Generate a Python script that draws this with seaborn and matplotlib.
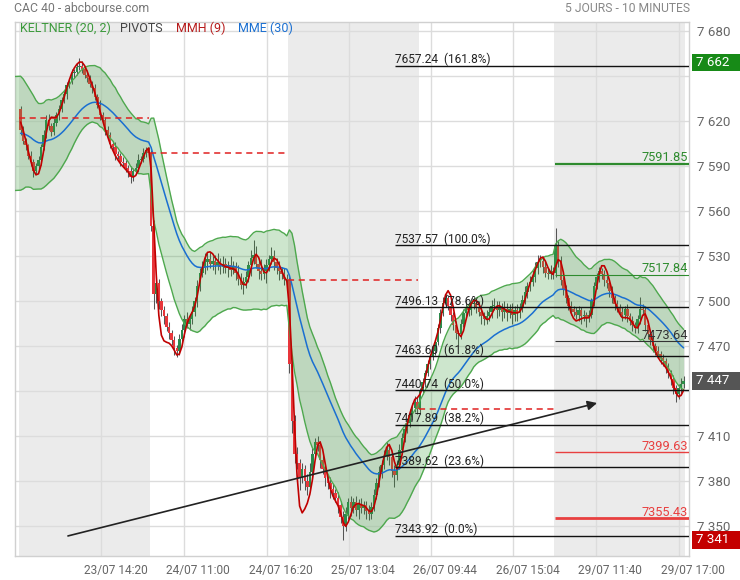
import numpy as np
import pandas as pd
import seaborn as sns
import matplotlib.pyplot as plt
from matplotlib.patches import Rectangle
from matplotlib.transforms import ScaledTranslation, blended_transform_factory

# CAC 40, 10 minute bars, one list of closes per session
day1_close = [7614, 7607, 7604, 7597, 7593, 7587, 7590, 7594, 7603, 7611,
              7621, 7617, 7613, 7619, 7624, 7628, 7634, 7638, 7644, 7647,
              7652, 7653, 7656, 7657, 7655, 7651, 7649, 7645, 7642, 7636,
              7631, 7624, 7621, 7614, 7611, 7605, 7603, 7598, 7597, 7593,
              7592, 7589, 7587, 7583, 7587, 7589, 7594, 7595, 7599, 7601, 7599]
day2_close = [7550, 7505, 7512, 7500, 7494, 7490, 7483, 7479, 7474, 7469,
              7467, 7475, 7481, 7488, 7485, 7488, 7493, 7500, 7510, 7519,
              7522, 7526, 7528, 7525, 7527, 7524, 7526, 7523, 7525, 7522,
              7524, 7521, 7523, 7519, 7515, 7511, 7513, 7516, 7524, 7529,
              7531, 7525, 7520, 7518, 7520, 7524, 7528, 7530, 7526, 7522,
              7520, 7518, 7515, 7514]
day3_close = [7458, 7420, 7398, 7392, 7382, 7388, 7380, 7376, 7386, 7398,
              7406, 7404, 7394, 7388, 7382, 7379, 7375, 7372, 7369, 7364,
              7356, 7350, 7358, 7366, 7362, 7366, 7361, 7365, 7362, 7364,
              7360, 7358, 7363, 7371, 7379, 7386, 7391, 7397, 7401, 7396,
              7387, 7384, 7391, 7401, 7409, 7415, 7419, 7424, 7429, 7433, 7428]
day4_close = [7440, 7446, 7452, 7458, 7463, 7467, 7473, 7482, 7492, 7499,
              7502, 7497, 7491, 7484, 7479, 7478, 7485, 7492, 7496, 7494,
              7498, 7499, 7496, 7493, 7490, 7488, 7490, 7493, 7497, 7497,
              7494, 7496, 7493, 7495, 7492, 7495, 7491, 7494, 7492, 7496,
              7501, 7506, 7510, 7513, 7516, 7522, 7526, 7527, 7523, 7519,
              7518, 7520, 7519]
day5_close = [7537, 7527, 7514, 7508, 7502, 7497, 7495, 7493, 7491, 7494,
              7490, 7491, 7489, 7491, 7500, 7510, 7516, 7520, 7518, 7514,
              7512, 7507, 7502, 7498, 7496, 7493, 7491, 7495, 7490, 7487,
              7484, 7482, 7488, 7495, 7494, 7484, 7478, 7474, 7470, 7467,
              7465, 7462, 7460, 7456, 7452, 7448, 7442, 7438, 7442, 7445, 7447]

# wick length above / below the body
day1_up = [2, 3, 2, 1, 3, 2, 2, 3, 2, 3, 3, 4, 2, 3, 2, 3, 2, 3, 2, 2,
           3, 2, 3, 5, 3, 2, 3, 2, 2, 3, 2, 3, 2, 2, 3, 2, 2, 3, 2, 2,
           3, 2, 2, 3, 2, 3, 4, 2, 3, 2, 2]
day1_dn = [3, 2, 3, 2, 3, 4, 2, 2, 3, 2, 2, 3, 3, 2, 2, 3, 2, 2, 3, 2,
           2, 3, 2, 2, 3, 2, 3, 2, 3, 2, 2, 3, 2, 3, 2, 3, 2, 4, 2, 3,
           2, 3, 4, 4, 3, 2, 3, 2, 2, 3, 2]
day2_up = [2, 4, 5, 3, 2, 3, 2, 3, 2, 3, 2, 3, 4, 3, 5, 3, 4, 3, 4, 3,
           5, 6, 4, 5, 3, 4, 6, 3, 5, 4, 3, 6, 4, 3, 5, 4, 3, 4, 3, 5,
           10, 6, 3, 8, 5, 4, 3, 6, 4, 3, 5, 3, 4, 3]
day2_dn = [3, 10, 6, 5, 4, 5, 3, 4, 3, 5, 4, 3, 4, 5, 3, 4, 3, 3, 4, 3,
           3, 4, 5, 3, 4, 6, 3, 5, 4, 3, 6, 4, 3, 5, 4, 3, 6, 4, 3, 7,
           4, 3, 5, 4, 3, 8, 4, 3, 5, 4, 6, 3, 4, 3]
day3_up = [2, 6, 4, 5, 3, 4, 3, 5, 6, 4, 3, 4, 3, 4, 3, 3, 4, 3, 3, 4,
           3, 4, 5, 3, 4, 3, 4, 3, 4, 3, 3, 4, 3, 4, 3, 4, 3, 4, 5, 3,
           3, 4, 3, 4, 3, 4, 3, 4, 3, 4, 3]
day3_dn = [6, 8, 6, 4, 8, 3, 6, 5, 3, 3, 3, 4, 5, 3, 5, 4, 6, 4, 3, 5,
           4, 9, 3, 3, 5, 3, 4, 6, 3, 4, 5, 4, 3, 3, 3, 3, 4, 3, 3, 5,
           4, 8, 3, 3, 3, 3, 3, 3, 3, 3, 3]
day4_up = [2, 3, 2, 3, 2, 3, 2, 3, 3, 4, 3, 2, 3, 2, 3, 2, 3, 3, 4, 3,
           4, 3, 3, 4, 3, 3, 4, 3, 4, 5, 3, 4, 3, 5, 4, 3, 4, 3, 4, 3,
           3, 4, 3, 4, 5, 4, 5, 4, 3, 4, 3, 4, 3]
day4_dn = [3, 2, 3, 2, 3, 2, 3, 2, 3, 2, 3, 3, 4, 3, 4, 7, 3, 2, 3, 4,
           3, 3, 4, 3, 5, 4, 3, 3, 4, 3, 5, 4, 6, 4, 5, 3, 6, 4, 5, 3,
           3, 3, 4, 3, 3, 3, 4, 3, 4, 3, 3, 3, 4]
day5_up = [12, 3, 3, 2, 3, 2, 3, 2, 3, 3, 2, 3, 2, 3, 2, 3, 3, 3, 2, 3,
           3, 2, 3, 2, 3, 2, 3, 2, 3, 2, 3, 2, 3, 8, 3, 2, 3, 2, 3, 2,
           3, 2, 3, 2, 3, 2, 3, 2, 3, 4, 3]
day5_dn = [3, 4, 3, 4, 3, 3, 4, 3, 3, 4, 5, 3, 6, 3, 2, 3, 2, 3, 3, 4,
           3, 4, 3, 4, 3, 3, 4, 3, 4, 3, 4, 3, 3, 3, 3, 4, 3, 3, 4, 3,
           3, 4, 3, 4, 3, 4, 4, 5, 3, 3, 3]

first_open = 7628
prev_close = 7622
session_prev_close = [7622, 7599, 7514, 7428]

# indicator state carried in from the previous session
keltner_mid_seed = 7612
keltner_atr_seed = 19.0
mme_seed = 7612

fib_levels = [7657.24, 7537.57, 7496.13, 7463.60, 7440.74, 7417.89, 7389.62, 7343.92]
fib_pcts = ["161.8%", "100.0%", "78.6%", "61.8%", "50.0%", "38.2%", "23.6%", "0.0%"]
pivot_levels = [7591.85, 7517.84, 7473.64, 7399.63, 7355.43]
box_values = [7662, 7447, 7341]
x_labels = ["23/07 14:20", "24/07 11:00", "24/07 16:20", "25/07 13:04",
            "26/07 09:44", "26/07 15:04", "29/07 11:40", "29/07 17:00"]
y_ticks = [7350, 7380, 7410, 7440, 7470, 7500, 7530, 7560, 7590, 7620, 7650, 7680]
trend_start = (18.5, 7343.7)
trend_end = (225.2, 7432.3)

days_close = [day1_close, day2_close, day3_close, day4_close, day5_close]
days_up = [day1_up, day2_up, day3_up, day4_up, day5_up]
days_dn = [day1_dn, day2_dn, day3_dn, day4_dn, day5_dn]
for c, u, d in zip(days_close, days_up, days_dn):
    assert len(c) == len(u) == len(d), (len(c), len(u), len(d))

closes = np.concatenate(days_close).astype(float)
n = len(closes)
xs = np.arange(n)
opens = np.r_[first_open, closes[:-1]]
highs = np.maximum(opens, closes) + np.concatenate(days_up)
lows = np.minimum(opens, closes) - np.concatenate(days_dn)
day_len = [len(d) for d in days_close]
day_start = np.r_[0, np.cumsum(day_len)[:-1]]
day_end = np.cumsum(day_len) - 1

# Keltner (20, 2): EMA of close +/- 2 ATR
a20 = 2 / 21
mid = np.empty(n)
atr = np.empty(n)
m, r, pc = keltner_mid_seed, keltner_atr_seed, prev_close
for i in range(n):
    tr = max(highs[i] - lows[i], abs(highs[i] - pc), abs(lows[i] - pc))
    m += a20 * (closes[i] - m)
    r += a20 * (tr - r)
    mid[i], atr[i] = m, r
    pc = closes[i]
upper = np.r_[keltner_mid_seed + 2 * keltner_atr_seed, mid + 2 * atr]
lower = np.r_[keltner_mid_seed - 2 * keltner_atr_seed, mid - 2 * atr]
xb = np.r_[-2.2, xs]

# MME (30)
a30 = 2 / 31
mme = np.empty(n)
e = mme_seed
for i in range(n):
    e += a30 * (closes[i] - e)
    mme[i] = e


# MMH (9) = Hull moving average
def wma(s, k):
    w = np.arange(1, k + 1)
    return s.rolling(k).apply(lambda v: np.dot(v, w) / w.sum(), raw=True)


warm = pd.Series(np.r_[np.full(12, prev_close), closes])
mmh = wma(2 * wma(warm, 4) - wma(warm, 9), 3).to_numpy()[12:]

sns.set_theme(style="whitegrid")
plt.rcParams['font.family'] = ['Roboto', 'DejaVu Sans']

fig = plt.figure(figsize=(7.4, 5.8), dpi=100, facecolor='white')
ax = fig.add_axes([15 / 740, 1 - 556 / 580, 674 / 740, 534 / 580])
ax.set_facecolor('white')
ax.set_xlim(-2.18, 261.1)
ax.set_ylim(7330.33, 7686.33)

for d in (0, 2, 4):
    ax.axvspan(day_start[d] - 0.5, day_end[d] + 0.5, color='#ebebeb', lw=0, zorder=0)

# candles
up = closes >= opens
ax.vlines(xs, lows, highs, color='#555555', lw=0.75, zorder=1.9)
ax.bar(xs, np.maximum(np.abs(closes - opens), 0.8), bottom=np.minimum(opens, closes),
       width=0.95, color=np.where(up, '#2a8a4c', '#e8363b'), lw=0, zorder=2)

# keltner band
ax.fill_between(xb, lower, upper, color='#3a9e3a', alpha=0.25, lw=0, zorder=3)
sns.lineplot(x=xb, y=upper, color='#4ea84e', linewidth=1, ax=ax, zorder=3.5)
sns.lineplot(x=xb, y=lower, color='#4ea84e', linewidth=1, ax=ax, zorder=3.5)
sns.lineplot(x=xs, y=mme, color='#1a6fd1', linewidth=1.1, ax=ax, zorder=4)
sns.lineplot(x=xs, y=mmh, color='#c00000', linewidth=1.2, ax=ax, zorder=5)

# previous close per session
for d, v in enumerate(session_prev_close):
    ax.hlines(v, day_start[d] - 0.5, day_end[d] + 0.3, color='#e02020', lw=1.1,
              linestyles=(0, (4, 3)), zorder=4.5)

# fibonacci retracements
for v, p in zip(fib_levels, fib_pcts):
    ax.hlines(v, 146.3, 261.1, color='#111111', lw=1, zorder=6)
    ax.annotate(f"{v:.2f}  ({p})", (146.3, v), xytext=(0, 1.8), textcoords='offset points',
                va='baseline', ha='left', fontsize=8.6, color='#222222', zorder=6)

# pivots
piv_style = [('#2e8b2e', 1.6), ('#2e8b2e', 0.8), ('#333333', 0.8), ('#e84040', 1.0), ('#e84040', 2.0)]
for v, (c, w) in zip(pivot_levels, piv_style):
    ax.hlines(v, 208.6, 261.1, color=c, lw=w, zorder=6)
    ax.annotate(f"{v:.2f}", (260.7, v), xytext=(0, 1.8), textcoords='offset points',
                va='baseline', ha='right', fontsize=9.2, color=c, zorder=6)

ax.annotate('', xy=trend_end, xytext=trend_start,
            arrowprops=dict(arrowstyle='-|>', color='#222222', lw=1.2,
                            mutation_scale=14, shrinkA=0, shrinkB=0), zorder=7)

# axes
ax.yaxis.tick_right()
ax.set_yticks(y_ticks)
ax.set_yticklabels(["" if t in (7650, 7440) else f"{t:,}".replace(",", " ") for t in y_ticks])
ax.set_xticks([31.6, 63.8, 96.1, 128.3, 160.3, 192.5, 224.7, 257.0])
ax.set_xticklabels(x_labels)
ax.tick_params(axis='y', length=0, pad=6, labelsize=9.6, labelcolor='#666666')
ax.tick_params(axis='x', length=0, pad=6, labelsize=8.6, labelcolor='#666666')
for lab in ax.get_xticklabels():
    lab.set_transform(lab.get_transform() + ScaledTranslation(14 / 100, 0, fig.dpi_scale_trans))
ax.grid(True, color='#dcdcdc', lw=1)
ax.set_axisbelow(True)
for s in ax.spines.values():
    s.set_color('#d0d0d0')
    s.set_linewidth(1)

# value boxes on the price scale (the top one sits a little under its level)
blend = blended_transform_factory(fig.transFigure, ax.transData)
for v, c, dy in zip(box_values, ['#178a17', '#555555', '#c40000'], [-2.5, 0, 0]):
    fig.add_artist(Rectangle((692 / 740, v + dy - 5.7), 48 / 740, 11.4, transform=blend,
                             facecolor=c, edgecolor='none'))
    fig.text(696 / 740, v + dy, f"{v:,}".replace(",", " "), transform=blend, va='center',
             ha='left', color='white', fontsize=9.6)

# titles and legend
fig.text(14 / 740, 1 - 9 / 580, "CAC 40 - abcbourse.com", va='center', ha='left',
         color='#777777', fontsize=8.8)
fig.text(690 / 740, 1 - 9 / 580, "5 JOURS - 10 MINUTES", va='center', ha='right',
         color='#888888', fontsize=8.7)
for x0, s, c in [(20, "KELTNER (20, 2)", '#3c9a3c'), (120, "PIVOTS", '#444444'),
                 (176, "MMH (9)", '#b71c1c'), (238, "MME (30)", '#1a6fd1')]:
    fig.text(x0 / 740, 1 - 28 / 580, s, va='center', ha='left', color=c, fontsize=9.0)

fig.savefig('out.png', dpi=100, facecolor='white')
